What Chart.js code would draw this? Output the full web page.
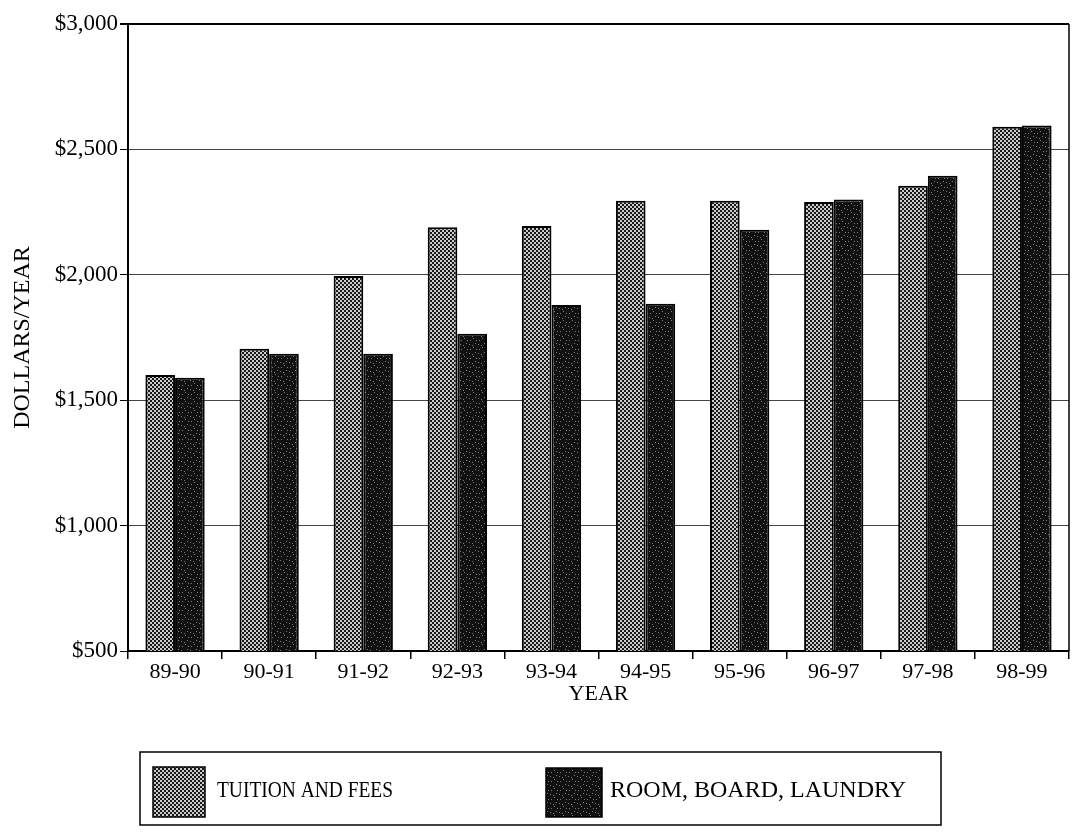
<!DOCTYPE html>
<html>
<head>
<meta charset="utf-8">
<style>
  html, body { margin: 0; padding: 0; background: #fff; }
  canvas { display: block; }
</style>
<script src="https://cdn.jsdelivr.net/npm/chart.js@4/dist/chart.umd.min.js"></script>
</head>
<body>
<canvas id="chart" width="1074" height="833"></canvas>
<script>
// ---- data ----
const years = ['89-90', '90-91', '91-92', '92-93', '93-94', '94-95', '95-96', '96-97', '97-98', '98-99'];
const tuitionFees = [1600, 1705, 1995, 2190, 2195, 2295, 2295, 2290, 2355, 2590];
const roomBoardLaundry = [1590, 1685, 1685, 1765, 1880, 1885, 2180, 2300, 2395, 2595];
const yTickValues = [500, 1000, 1500, 2000, 2500, 3000];
const seriesNames = ['TUITION AND FEES', 'ROOM, BOARD, LAUNDRY'];
const xTitle = 'YEAR';
const yTitle = 'DOLLARS/YEAR';

// ---- fill textures ----
function dotPattern() {
  const c = document.createElement('canvas');
  c.width = 4; c.height = 4;
  const g = c.getContext('2d');
  g.fillStyle = '#181818'; g.fillRect(0, 0, 4, 4);
  g.fillStyle = '#cccccc';
  g.fillRect(0, 0, 2, 2);
  g.fillRect(2, 2, 2, 2);
  return g.createPattern(c, 'repeat');
}
function speckPattern() {
  const c = document.createElement('canvas');
  c.width = 9; c.height = 9;
  const g = c.getContext('2d');
  g.fillStyle = '#111111'; g.fillRect(0, 0, 9, 9);
  g.fillStyle = '#7c7c7c';
  [[1, 2], [5, 5], [7, 1], [2, 7], [4, 3], [8, 7]].forEach(p => g.fillRect(p[0], p[1], 1, 1));
  return g.createPattern(c, 'repeat');
}

const FONT = 'Liberation Serif, Times New Roman, serif';

const frameAndLegend = {
  id: 'frameAndLegend',
  afterDraw(chart) {
    const ctx = chart.ctx;
    const a = chart.chartArea;
    ctx.save();
    // right frame line
    ctx.strokeStyle = '#000';
    ctx.lineWidth = 1.5;
    ctx.beginPath();
    ctx.moveTo(a.right, a.top);
    ctx.lineTo(a.right, a.bottom);
    ctx.stroke();

    // legend box
    const box = { left: 140, top: 752, right: 941, bottom: 825 };
    ctx.lineWidth = 1.5;
    ctx.strokeRect(box.left, box.top, box.right - box.left, box.bottom - box.top);
    const items = [
      { sx: 153, sy: 767, sw: 52, sh: 50, tx: 217, maxW: 176 },
      { sx: 546, sy: 768, sw: 56, sh: 49, tx: 610, maxW: 330 }
    ];
    chart.data.datasets.forEach((ds, i) => {
      const it = items[i];
      ctx.fillStyle = ds.backgroundColor;
      ctx.fillRect(it.sx, it.sy, it.sw, it.sh);
      ctx.lineWidth = 1.5;
      ctx.strokeStyle = '#000';
      ctx.strokeRect(it.sx, it.sy, it.sw, it.sh);
      ctx.fillStyle = '#000';
      ctx.font = '24px ' + FONT;
      ctx.textBaseline = 'alphabetic';
      ctx.textAlign = 'left';
      ctx.fillText(ds.label, it.tx, 797, it.maxW);
    });
    ctx.restore();
  }
};

new Chart(document.getElementById('chart'), {
  type: 'bar',
  data: {
    labels: years,
    datasets: [
      { label: seriesNames[0], data: tuitionFees, backgroundColor: dotPattern(), borderColor: '#000', borderWidth: 2 },
      { label: seriesNames[1], data: roomBoardLaundry, backgroundColor: speckPattern(), borderColor: '#000', borderWidth: 2 }
    ]
  },
  options: {
    responsive: false,
    animation: false,
    devicePixelRatio: 1,
    layout: { padding: { top: 24, right: 5, bottom: 116, left: 0 } },
    datasets: { bar: { categoryPercentage: 0.63, barPercentage: 1.0 } },
    plugins: { legend: { display: false }, tooltip: { enabled: false } },
    scales: {
      x: {
        ticks: { font: { family: FONT, size: 22 }, color: '#000', padding: 0, maxRotation: 0, autoSkip: false },
        grid: { offset: true, drawOnChartArea: false, tickLength: 8, color: '#000', lineWidth: 1.5 },
        border: { color: '#000', width: 2 },
        title: { display: true, text: xTitle, font: { family: FONT, size: 22 }, color: '#000', padding: { top: 0, bottom: 10 } },
        afterFit: s => { s.height = 66; }
      },
      y: {
        min: 500, max: 3000,
        afterBuildTicks: s => { s.ticks = yTickValues.map(v => ({ value: v })); },
        ticks: {
          callback: v => '$' + Number(v).toLocaleString('en-US'),
          font: { family: FONT, size: 23 }, color: '#000', padding: 2
        },
        grid: {
          color: c => (c.tick && c.tick.value === 3000) ? '#000' : '#444',
          lineWidth: c => (c.tick && c.tick.value === 3000) ? 2 : 1,
          tickLength: 8, tickColor: '#000'
        },
        border: { color: '#000', width: 2 },
        title: { display: true, text: yTitle, font: { family: FONT, size: 24 }, color: '#000', padding: { top: 8, bottom: 0 } },
        afterFit: s => { s.width = 128; }
      }
    }
  },
  plugins: [frameAndLegend]
});
</script>
</body>
</html>
